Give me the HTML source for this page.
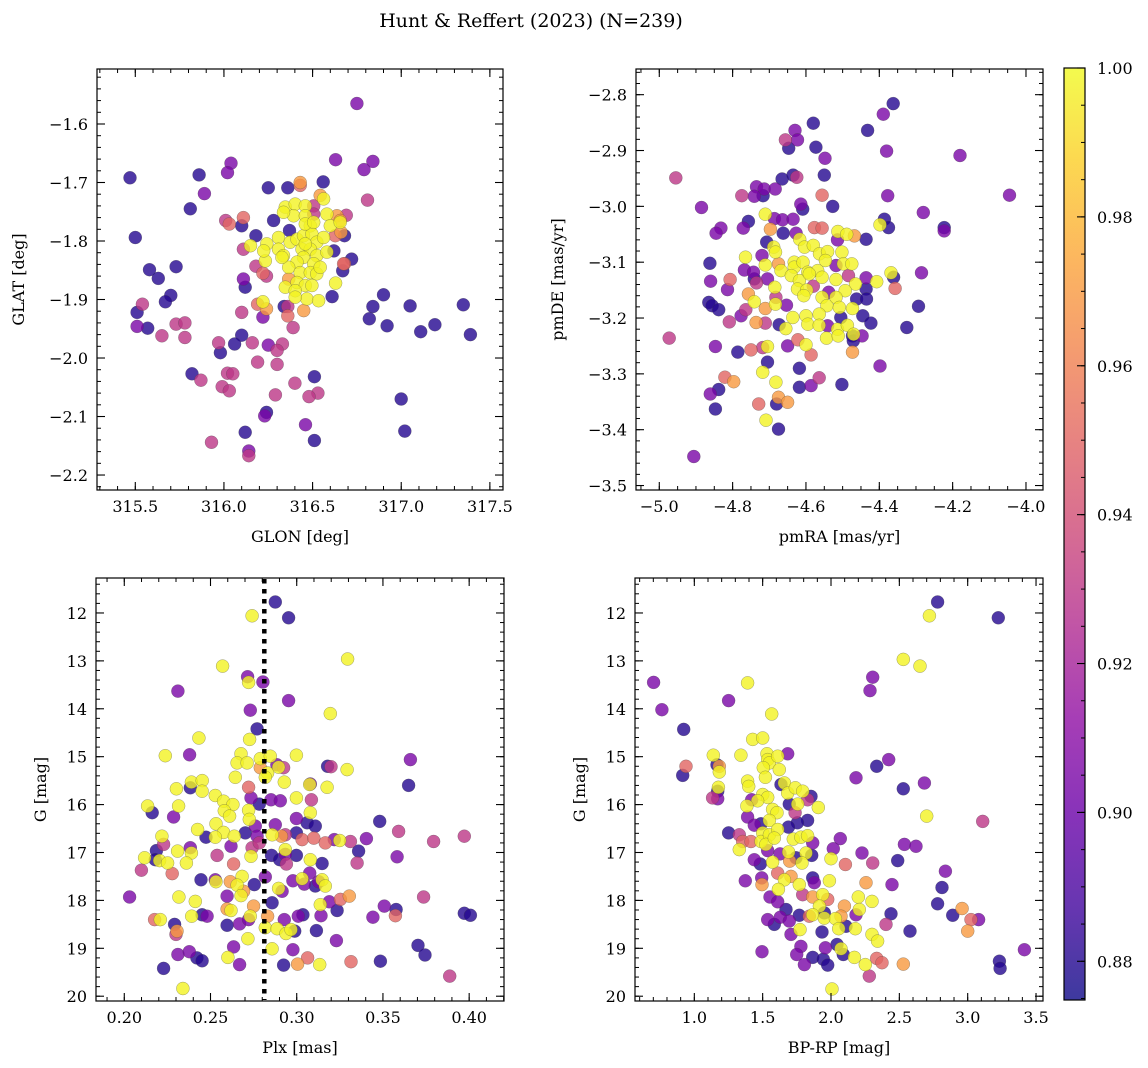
<!DOCTYPE html>
<html><head><meta charset="utf-8">
<style>
html,body{margin:0;padding:0;background:#fff;}
svg{display:block;font-family:"DejaVu Serif","Liberation Serif",serif;}
</style></head>
<body>
<svg id="fig" width="1148" height="1068" viewBox="0 0 1148 1068" xmlns="http://www.w3.org/2000/svg">
<text x="531" y="27" text-anchor="middle" font-size="19">Hunt &amp; Reffert (2023) (N=239)</text>
</svg>
<script>
// ---------- data (value units) ----------
const p1Points = [
[316.75,-1.565,.905],[315.47,-1.692,.88],[315.86,-1.687,.88],[316.04,-1.667,.905],[316.02,-1.683,.905],[315.89,-1.719,.905],[315.81,-1.745,.88],[315.50,-1.794,.88],[316.63,-1.661,.905],[316.84,-1.664,.905],[316.79,-1.678,.905],[316.81,-1.730,.93],[316.25,-1.709,.88],[316.36,-1.709,.88],[316.56,-1.699,.88],[316.43,-1.700,.97],[316.01,-1.765,.93],[316.03,-1.771,.95],[316.11,-1.760,.95],[316.10,-1.774,.88],[316.18,-1.791,.88],[316.28,-1.765,.88],[316.37,-1.782,.88],[316.69,-1.756,.93],[316.66,-1.785,.97],[316.68,-1.791,.88],[316.11,-1.814,.93],[316.15,-1.808,.998],[316.62,-1.817,.88],[316.72,-1.831,.88],[316.68,-1.839,.95],[316.67,-1.851,.88],[315.58,-1.849,.88],[315.73,-1.844,.88],[315.63,-1.864,.88],[315.70,-1.893,.88],[315.67,-1.904,.88],[315.54,-1.908,.93],[315.51,-1.922,.88],[315.51,-1.946,.905],[315.57,-1.949,.88],[315.65,-1.962,.93],[315.73,-1.942,.93],[315.78,-1.940,.93],[315.78,-1.965,.93],[316.18,-1.843,.93],[316.22,-1.855,.95],[316.24,-1.860,.93],[316.11,-1.865,.905],[316.12,-1.879,.88],[316.19,-1.908,.95],[316.22,-1.904,.998],[316.24,-1.916,.97],[316.10,-1.922,.93],[316.22,-1.930,.905],[316.34,-1.912,.88],[316.36,-1.912,.93],[316.36,-1.928,.95],[316.39,-1.948,.93],[316.45,-1.919,.97],[316.61,-1.895,.88],[316.63,-1.872,.998],[316.90,-1.892,.88],[316.84,-1.912,.88],[316.82,-1.933,.88],[316.92,-1.945,.88],[317.05,-1.911,.88],[317.11,-1.955,.88],[317.19,-1.943,.88],[317.35,-1.909,.88],[317.39,-1.960,.88],[316.10,-1.961,.88],[316.06,-1.976,.88],[315.97,-1.974,.93],[315.98,-1.991,.88],[316.16,-1.974,.93],[316.25,-1.978,.905],[316.33,-1.976,.93],[316.30,-1.987,.93],[316.19,-2.007,.93],[316.30,-2.011,.93],[315.82,-2.027,.88],[315.87,-2.038,.93],[316.02,-2.026,.93],[316.05,-2.027,.93],[315.99,-2.049,.93],[316.03,-2.056,.93],[316.40,-2.043,.93],[316.51,-2.032,.88],[316.53,-2.060,.93],[316.48,-2.066,.93],[316.29,-2.063,.93],[317.00,-2.070,.88],[316.24,-2.093,.88],[316.23,-2.099,.905],[316.46,-2.114,.905],[316.51,-2.141,.88],[317.02,-2.125,.88],[316.12,-2.127,.88],[315.93,-2.144,.93],[316.14,-2.159,.905],[316.14,-2.167,.93],
[316.346,-1.742,.998],[316.402,-1.737,.998],[316.459,-1.740,.998],[316.393,-1.757,.998],[316.459,-1.757,.998],[316.487,-1.774,.998],[316.581,-1.754,.998],[316.600,-1.774,.998],[316.656,-1.768,.998],[316.336,-1.751,.998],[316.562,-1.728,.998],[316.308,-1.794,.998],[316.242,-1.805,.998],[316.308,-1.814,.998],[316.374,-1.802,.998],[316.412,-1.797,.998],[316.449,-1.791,.998],[316.496,-1.788,.998],[316.524,-1.802,.998],[316.440,-1.814,.998],[316.487,-1.814,.998],[316.524,-1.825,.998],[316.581,-1.819,.998],[316.449,-1.828,.998],[316.506,-1.839,.998],[316.412,-1.836,.998],[316.365,-1.845,.998],[316.336,-1.825,.998],[316.233,-1.834,.998],[316.430,-1.854,.998],[316.487,-1.854,.998],[316.524,-1.856,.998],[316.543,-1.845,.998],[316.412,-1.871,.998],[316.459,-1.876,.998],[316.496,-1.876,.998],[316.346,-1.879,.998],[316.402,-1.885,.998],[316.468,-1.899,.998],[316.534,-1.902,.998],[316.402,-1.896,.998],[316.224,-1.817,.998],[316.459,-1.771,.998],[316.506,-1.768,.998],[316.327,-1.828,.998],[316.459,-1.805,.998],[316.562,-1.794,.998],
[316.543,-1.722,.97],[316.637,-1.757,.97],[316.365,-1.865,.97],[316.656,-1.765,.97],[316.430,-1.705,.95],[316.675,-1.839,.95],[316.628,-1.791,.95],[316.506,-1.740,.93],[316.506,-1.754,.93]
];
const p2Points = [
[-4.362,-2.816,.88],[-4.389,-2.835,.905],[-4.580,-2.851,.88],[-4.432,-2.864,.88],[-4.630,-2.864,.905],[-4.656,-2.881,.93],[-4.623,-2.881,.905],[-4.647,-2.896,.88],[-4.573,-2.894,.88],[-4.548,-2.914,.905],[-4.380,-2.901,.905],[-4.180,-2.909,.905],[-4.955,-2.949,.93],[-4.550,-2.944,.88],[-4.665,-2.951,.88],[-4.635,-2.944,.88],[-4.625,-2.948,.93],[-4.735,-2.965,.905],[-4.714,-2.969,.905],[-4.684,-2.969,.905],[-4.717,-2.981,.88],[-4.741,-2.982,.905],[-4.775,-2.981,.93],[-4.556,-2.980,.95],[-4.377,-2.981,.905],[-4.045,-2.980,.905],[-4.885,-3.002,.905],[-4.527,-3.000,.88],[-4.614,-2.996,.905],[-4.609,-3.005,.88],[-4.280,-3.011,.905],[-4.711,-3.014,.998],[-4.686,-3.022,.905],[-4.664,-3.024,.905],[-4.635,-3.023,.905],[-4.757,-3.027,.88],[-4.771,-3.039,.905],[-4.832,-3.039,.905],[-4.845,-3.048,.905],[-4.386,-3.023,.88],[-4.375,-3.038,.88],[-4.398,-3.033,.998],[-4.223,-3.038,.88],[-4.223,-3.044,.905],[-4.697,-3.041,.97],[-4.662,-3.048,.88],[-4.627,-3.048,.905],[-4.577,-3.038,.95],[-4.556,-3.039,.95],[-4.513,-3.045,.998],[-4.489,-3.050,.998],[-4.468,-3.053,.97],[-4.514,-3.060,.905],[-4.436,-3.059,.88],[-4.707,-3.064,.88],[-4.617,-3.059,.998],[-4.604,-3.073,.998],[-4.580,-3.070,.998],[-4.688,-3.073,.998],[-4.683,-3.082,.998],[-4.563,-3.085,.998],[-4.541,-3.081,.998],[-4.502,-3.082,.998],[-4.862,-3.102,.88],[-4.765,-3.091,.998],[-4.720,-3.088,.905],[-4.711,-3.105,.998],[-4.675,-3.103,.97],[-4.668,-3.115,.998],[-4.768,-3.114,.905],[-4.743,-3.118,.905],[-4.632,-3.100,.998],[-4.632,-3.109,.998],[-4.608,-3.100,.998],[-4.640,-3.124,.998],[-4.595,-3.118,.998],[-4.568,-3.115,.998],[-4.547,-3.097,.998],[-4.518,-3.106,.905],[-4.498,-3.103,.998],[-4.475,-3.103,.998],[-4.484,-3.124,.93],[-4.368,-3.119,.998],[-4.361,-3.127,.88],[-4.285,-3.119,.905],[-4.860,-3.134,.905],[-4.807,-3.131,.95],[-4.741,-3.130,.88],[-4.735,-3.137,.93],[-4.705,-3.130,.905],[-4.618,-3.133,.998],[-4.591,-3.121,.998],[-4.556,-3.127,.998],[-4.518,-3.131,.998],[-4.465,-3.139,.998],[-4.436,-3.128,.905],[-4.407,-3.135,.998],[-4.814,-3.149,.905],[-4.757,-3.157,.97],[-4.685,-3.145,.998],[-4.623,-3.148,.998],[-4.598,-3.150,.998],[-4.580,-3.143,.93],[-4.538,-3.154,.905],[-4.493,-3.151,.998],[-4.436,-3.148,.88],[-4.357,-3.147,.95],[-4.865,-3.172,.88],[-4.856,-3.178,.88],[-4.838,-3.185,.88],[-4.741,-3.171,.998],[-4.711,-3.183,.97],[-4.683,-3.175,.998],[-4.682,-3.163,.93],[-4.653,-3.177,.905],[-4.606,-3.160,.998],[-4.556,-3.163,.998],[-4.543,-3.178,.998],[-4.518,-3.163,.998],[-4.509,-3.181,.998],[-4.473,-3.183,.998],[-4.462,-3.166,.88],[-4.435,-3.166,.88],[-4.293,-3.179,.88],[-4.777,-3.196,.905],[-4.764,-3.185,.93],[-4.809,-3.207,.93],[-4.736,-3.208,.97],[-4.711,-3.209,.93],[-4.673,-3.212,.88],[-4.655,-3.219,.998],[-4.636,-3.199,.998],[-4.600,-3.196,.998],[-4.595,-3.211,.998],[-4.564,-3.193,.998],[-4.564,-3.213,.998],[-4.541,-3.214,.905],[-4.505,-3.199,.88],[-4.514,-3.220,.998],[-4.487,-3.213,.998],[-4.445,-3.196,.88],[-4.423,-3.209,.88],[-4.325,-3.217,.88],[-4.973,-3.236,.93],[-4.847,-3.251,.905],[-4.786,-3.261,.88],[-4.750,-3.257,.95],[-4.718,-3.253,.93],[-4.705,-3.251,.998],[-4.650,-3.250,.905],[-4.622,-3.239,.95],[-4.600,-3.248,.998],[-4.586,-3.266,.95],[-4.544,-3.236,.998],[-4.512,-3.232,.998],[-4.473,-3.232,.88],[-4.471,-3.241,.88],[-4.470,-3.229,.998],[-4.447,-3.232,.905],[-4.473,-3.261,.97],[-4.705,-3.279,.88],[-4.718,-3.297,.998],[-4.618,-3.290,.88],[-4.398,-3.286,.905],[-4.821,-3.306,.95],[-4.797,-3.314,.97],[-4.682,-3.315,.998],[-4.564,-3.307,.93],[-4.618,-3.324,.88],[-4.586,-3.321,.905],[-4.502,-3.319,.88],[-4.861,-3.336,.905],[-4.838,-3.328,.88],[-4.847,-3.363,.88],[-4.675,-3.342,.97],[-4.650,-3.351,.97],[-4.680,-3.354,.88],[-4.729,-3.354,.95],[-4.709,-3.383,.998],[-4.675,-3.399,.88],[-4.906,-3.448,.905]
];
const p3Points = [
[0.2876,11.77,.88],[0.2953,12.10,.88],[0.2741,12.06,.998],[0.3295,12.96,.998],[0.2570,13.11,.998],[0.2715,13.33,.905],[0.2721,13.45,.998],[0.2804,13.44,.905],[0.2311,13.63,.905],[0.2953,13.83,.905],[0.2731,14.03,.905],[0.3195,14.10,.998],[0.2770,14.42,.88],[0.2727,14.64,.998],[0.2433,14.61,.998],[0.2238,14.98,.998],[0.2379,14.96,.905],[0.2677,14.94,.998],[0.2654,15.13,.998],[0.2712,15.13,.998],[0.2789,15.04,.998],[0.2847,14.99,.998],[0.2998,14.97,.998],[0.2789,15.23,.97],[0.2831,15.34,.998],[0.2895,15.22,.998],[0.2924,15.23,.93],[0.2885,15.17,.905],[0.3179,15.20,.88],[0.3199,15.21,.93],[0.3292,15.27,.998],[0.3659,15.06,.905],[0.2644,15.43,.998],[0.2818,15.43,.998],[0.2928,15.53,.998],[0.3079,15.57,.905],[0.3075,15.58,.998],[0.3176,15.64,.998],[0.3649,15.60,.88],[0.2302,15.67,.998],[0.2383,15.65,.88],[0.2389,15.53,.998],[0.2452,15.50,.998],[0.2451,15.72,.998],[0.2721,15.64,.95],[0.2528,15.81,.998],[0.2576,15.93,.998],[0.2630,16.00,.998],[0.2580,16.13,.998],[0.2611,16.24,.998],[0.2735,15.86,.905],[0.2783,15.99,.88],[0.2851,15.90,.905],[0.2905,15.92,.905],[0.2998,15.86,.998],[0.3085,15.90,.93],[0.2135,16.03,.998],[0.2162,16.17,.88],[0.2315,16.03,.998],[0.2286,16.26,.905],[0.2721,16.12,.998],[0.2725,16.31,.998],[0.3079,16.17,.998],[0.2998,16.29,.905],[0.3060,16.38,.88],[0.3108,16.45,.88],[0.2876,16.42,.905],[0.2760,16.45,.905],[0.3481,16.35,.88],[0.3591,16.56,.93],[0.3972,16.66,.93],[0.3794,16.77,.93],[0.2425,16.52,.998],[0.2532,16.40,.998],[0.2576,16.58,.998],[0.2528,16.68,.998],[0.2474,16.68,.88],[0.2638,16.66,.998],[0.2702,16.59,.88],[0.2770,16.66,.905],[0.2858,16.63,.998],[0.2911,16.66,.97],[0.2934,16.63,.93],[0.2998,16.59,.88],[0.3031,16.73,.95],[0.3099,16.70,.95],[0.3166,16.80,.95],[0.3218,16.73,.905],[0.3249,16.75,.998],[0.3311,16.77,.93],[0.3404,16.71,.905],[0.3359,16.97,.88],[0.3582,17.09,.905],[0.3350,17.22,.93],[0.2218,16.66,.998],[0.2228,16.83,.93],[0.2186,16.96,.88],[0.2180,17.15,.88],[0.2118,17.11,.998],[0.2205,17.17,.998],[0.2251,17.22,.998],[0.2309,16.97,.998],[0.2383,16.90,.905],[0.2389,17.01,.998],[0.2360,17.22,.998],[0.2099,17.37,.93],[0.2278,17.44,.95],[0.2538,17.06,.93],[0.2619,16.87,.905],[0.2741,16.90,.93],[0.2783,16.80,.93],[0.2735,17.08,.998],[0.2854,17.06,.88],[0.2934,17.04,.905],[0.2934,16.94,.998],[0.2901,17.15,.88],[0.2940,17.24,.93],[0.2998,17.06,.88],[0.3079,17.15,.998],[0.3147,17.23,.88],[0.2634,17.24,.95],[0.2445,17.57,.88],[0.2528,17.57,.905],[0.2532,17.61,.998],[0.2683,17.50,.998],[0.2615,17.61,.97],[0.2654,17.68,.998],[0.2692,17.81,.97],[0.2677,17.90,.998],[0.2754,17.67,.88],[0.2818,17.51,.905],[0.2895,17.75,.998],[0.2915,17.81,.905],[0.2978,17.59,.905],[0.3031,17.55,.998],[0.3075,17.43,.905],[0.3044,17.66,.905],[0.3108,17.70,.88],[0.3147,17.57,.998],[0.3166,17.70,.998],[0.3127,17.61,.905],[0.2317,17.93,.998],[0.2412,18.02,.998],[0.2596,17.91,.905],[0.2857,18.05,.88],[0.2750,18.12,.97],[0.3137,18.09,.998],[0.3189,18.03,.905],[0.3253,17.98,.95],[0.3305,17.91,.97],[0.3234,18.21,.88],[0.3508,18.12,.905],[0.3576,18.19,.88],[0.3572,18.32,.95],[0.3442,18.35,.905],[0.3736,17.93,.93],[0.3972,18.27,.88],[0.4007,18.31,.88],[0.2176,18.40,.95],[0.2209,18.40,.998],[0.2391,18.33,.998],[0.2451,18.30,.88],[0.2480,18.33,.905],[0.2292,18.50,.88],[0.2306,18.64,.97],[0.2300,18.71,.93],[0.2596,18.18,.97],[0.2619,18.21,.998],[0.2596,18.52,.88],[0.2669,18.49,.905],[0.2721,18.40,.905],[0.2731,18.33,.998],[0.2831,18.33,.97],[0.2818,18.57,.998],[0.2886,18.59,.998],[0.2928,18.40,.905],[0.2938,18.69,.998],[0.2967,18.61,.998],[0.2988,18.64,.88],[0.3009,18.33,.905],[0.3036,18.30,.88],[0.3114,18.63,.88],[0.3141,18.32,.905],[0.2717,18.80,.998],[0.2634,18.97,.905],[0.2857,19.01,.998],[0.2978,19.03,.905],[0.3230,18.84,.905],[0.3703,18.94,.88],[0.3744,19.14,.88],[0.2311,19.13,.905],[0.2377,19.07,.905],[0.2421,19.20,.88],[0.2451,19.26,.88],[0.2601,19.19,.998],[0.2669,19.34,.905],[0.2924,19.35,.88],[0.3005,19.33,.97],[0.3063,19.20,.95],[0.3133,19.34,.998],[0.3315,19.28,.95],[0.3485,19.27,.88],[0.2228,19.42,.88],[0.2340,19.84,.998],[0.3887,19.58,.93],[0.2031,17.93,.905]
];
const p4Points = [
[2.780,11.77,.88],[2.720,12.06,.998],[3.224,12.10,.88],[2.529,12.97,.998],[2.651,13.11,.998],[2.305,13.34,.905],[2.285,13.62,.905],[0.702,13.45,.905],[1.390,13.46,.998],[0.763,14.02,.905],[1.251,13.83,.905],[0.922,14.43,.88],[1.566,14.11,.998],[1.427,14.64,.998],[1.500,14.61,.998],[1.139,14.97,.998],[1.341,14.97,.998],[1.683,14.94,.905],[1.532,14.94,.998],[1.537,15.06,.998],[1.549,15.13,.998],[1.610,14.99,.998],[1.505,15.23,.998],[1.520,15.43,.998],[1.622,15.27,.998],[0.939,15.20,.95],[0.915,15.39,.88],[1.166,15.17,.88],[1.183,15.20,.97],[1.183,15.32,.998],[2.183,15.44,.905],[2.334,15.20,.88],[2.422,15.06,.905],[2.683,15.55,.905],[2.529,15.67,.88],[2.700,16.24,.998],[3.110,16.35,.93],[1.176,15.64,.998],[1.171,15.72,.88],[1.134,15.86,.93],[1.171,15.88,.905],[1.390,15.51,.998],[1.398,15.62,.998],[1.634,15.58,.88],[1.659,15.55,.998],[1.683,15.76,.998],[1.739,15.65,.998],[1.793,15.72,.998],[1.854,15.83,.88],[1.829,15.90,.93],[1.500,15.79,.998],[1.537,15.85,.998],[1.420,15.90,.905],[1.463,15.92,.998],[1.385,16.03,.998],[1.695,15.99,.88],[1.756,15.99,.998],[1.907,16.06,.998],[1.573,16.10,.998],[1.605,16.17,.998],[1.390,16.26,.905],[1.549,16.33,.998],[1.737,16.17,.93],[1.829,16.33,.88],[1.754,16.38,.88],[1.688,16.47,.88],[1.439,16.43,.905],[1.488,16.40,.88],[1.251,16.59,.88],[1.329,16.63,.93],[1.354,16.77,.95],[1.415,16.77,.95],[1.500,16.59,.998],[1.488,16.77,.998],[1.549,16.63,.998],[1.610,16.52,.998],[1.524,16.83,.998],[1.585,16.70,.998],[1.724,16.72,.998],[1.780,16.68,.998],[1.829,16.65,.998],[1.866,16.80,.905],[2.068,16.71,.905],[2.017,16.92,.905],[1.329,16.94,.998],[1.439,17.15,.905],[1.483,17.24,.88],[1.537,16.96,.905],[1.573,17.20,.998],[1.627,17.03,.905],[1.690,16.99,.998],[1.698,17.18,.97],[1.744,17.11,.88],[1.817,17.01,.998],[1.788,17.22,.998],[1.859,17.06,.88],[2.000,17.13,.998],[2.105,17.25,.95],[2.227,17.01,.905],[2.305,17.22,.93],[2.488,17.17,.88],[2.537,16.83,.905],[2.622,16.87,.905],[1.610,17.43,.95],[1.659,17.57,.998],[1.707,17.50,.97],[1.495,17.67,.97],[1.373,17.59,.905],[1.493,17.53,.905],[1.615,17.77,.998],[1.768,17.67,.998],[1.866,17.53,.88],[1.878,17.63,.905],[1.988,17.59,.998],[2.256,17.63,.97],[2.446,17.67,.905],[2.837,17.39,.905],[2.812,17.73,.88],[1.554,17.93,.905],[1.610,18.03,.905],[1.793,17.88,.93],[1.866,17.93,.97],[1.939,17.88,.998],[1.976,17.98,.95],[1.915,18.12,.998],[2.200,17.93,.998],[2.300,18.02,.998],[2.098,18.12,.97],[2.207,18.19,.998],[2.780,18.07,.88],[2.959,18.17,.97],[2.890,18.31,.88],[1.671,18.19,.88],[1.768,18.31,.88],[1.841,18.33,.95],[1.866,18.30,.998],[1.951,18.37,.998],[1.951,18.26,.88],[2.032,18.38,.998],[2.073,18.33,.97],[2.183,18.30,.905],[2.439,18.28,.88],[3.024,18.40,.95],[3.080,18.40,.905],[1.537,18.40,.905],[1.585,18.50,.88],[1.629,18.35,.905],[1.695,18.43,.905],[1.773,18.61,.998],[1.707,18.71,.905],[1.934,18.66,.88],[2.056,18.59,.998],[2.110,18.54,.88],[2.178,18.59,.998],[2.402,18.50,.93],[2.578,18.64,.88],[3.000,18.64,.97],[2.300,18.71,.998],[2.341,18.85,.998],[1.495,19.07,.905],[1.780,18.96,.905],[1.749,19.13,.905],[1.866,19.19,.88],[1.959,18.99,.905],[1.944,19.23,.88],[1.976,19.35,.88],[1.805,19.34,.905],[2.044,18.92,.88],[2.073,19.01,.998],[2.090,19.13,.88],[2.171,19.19,.998],[2.251,19.34,.998],[2.334,19.21,.95],[2.373,19.30,.95],[2.280,19.58,.93],[2.529,19.33,.97],[2.007,19.85,.998],[3.232,19.27,.88],[3.237,19.42,.88],[3.415,19.03,.905]
];
const plxRef = 0.2812;
const p1XTicks = [315.5,316.0,316.5,317.0,317.5];
const p1YTicks = [-1.6,-1.7,-1.8,-1.9,-2.0,-2.1,-2.2];
const p2XTicks = [-5.0,-4.8,-4.6,-4.4,-4.2,-4.0];
const p2YTicks = [-2.8,-2.9,-3.0,-3.1,-3.2,-3.3,-3.4,-3.5];
const p3XTicks = [0.20,0.25,0.30,0.35,0.40];
const gTicks = [12,13,14,15,16,17,18,19,20];
const p4XTicks = [1.0,1.5,2.0,2.5,3.0,3.5];
const cbTicks = [0.88,0.90,0.92,0.94,0.96,0.98,1.00];
const cMin = 0.8748, cMax = 1.0;

// ---------- helpers ----------
const NS = "http://www.w3.org/2000/svg";
const svg = document.getElementById('fig');
function mk(tag, attrs, parent){const e=document.createElementNS(NS,tag);for(const k in attrs)e.setAttribute(k,attrs[k]);(parent||svg).appendChild(e);return e;}
const plasma=[[13,8,135],[65,4,157],[106,0,168],[143,13,164],[177,42,144],[204,71,120],[225,100,98],[242,132,75],[252,166,54],[252,206,37],[240,249,33]];
function cmap(t){t=Math.max(0,Math.min(1,t));const f=t*10,i=Math.min(9,Math.floor(f)),r=f-i;const a=plasma[i],b=plasma[i+1];return `rgb(${Math.round(a[0]+(b[0]-a[0])*r)},${Math.round(a[1]+(b[1]-a[1])*r)},${Math.round(a[2]+(b[2]-a[2])*r)})`;}
function lin(d0,d1,r0,r1){return v=>r0+(v-d0)/(d1-d0)*(r1-r0);}
function fmt(v,dec){const s=Math.abs(v).toFixed(dec);return (v<0?'\u2212':'')+s;}

function panel(opt){
  const g=mk('g',{});
  
  
  const {L,R,T,B}=opt;
  const sx=lin(opt.xd[0],opt.xd[1],L,R), sy=lin(opt.yd[0],opt.yd[1],T,B);
  // points
  const pg=mk('g',{},g);
  
  
  const pts=opt.pts.slice().sort((a,b)=>a[2]-b[2]);
  pts.forEach(p=>{
    const c=mk('circle',{cx:sx(p[0]).toFixed(1),cy:sy(p[1]).toFixed(1),r:6.5,fill:cmap((p[2]-cMin)/(cMax-cMin)),'fill-opacity':0.8,stroke:'#444','stroke-opacity':0.5,'stroke-width':0.5},pg);
    
    
  });
  if(opt.extra) opt.extra(g,sx,sy);
  // frame
  const fr=mk('rect',{x:L,y:T,width:R-L,height:B-T,fill:'none',stroke:'#000','stroke-width':1.2},g);
  
  
  // ticks
  const xmin=Math.min(...opt.xd),xmax=Math.max(...opt.xd),ymin=Math.min(...opt.yd),ymax=Math.max(...opt.yd);
  for(let v=Math.ceil(xmin/opt.xm-1e-6)*opt.xm; v<=xmax+1e-9; v+=opt.xm){
    const x=sx(v); if(x<L-0.5||x>R+0.5)continue;
    mk('line',{x1:x,x2:x,y1:B,y2:B-4,stroke:'#000','stroke-width':1},g);
    mk('line',{x1:x,x2:x,y1:T,y2:T+4,stroke:'#000','stroke-width':1},g);
  }
  for(let v=Math.ceil(ymin/opt.ym-1e-6)*opt.ym; v<=ymax+1e-9; v+=opt.ym){
    const y=sy(v); if(y<T-0.5||y>B+0.5)continue;
    mk('line',{x1:L,x2:L+4,y1:y,y2:y,stroke:'#000','stroke-width':1},g);
    mk('line',{x1:R,x2:R-4,y1:y,y2:y,stroke:'#000','stroke-width':1},g);
  }
  opt.xt.forEach(v=>{const x=sx(v);
    mk('line',{x1:x,x2:x,y1:B,y2:B-8,stroke:'#000','stroke-width':1.1},g);
    mk('line',{x1:x,x2:x,y1:T,y2:T+8,stroke:'#000','stroke-width':1.1},g);
    const t=mk('text',{x:x,y:B+22,'text-anchor':'middle','font-size':16},g);t.textContent=fmt(v,opt.xdec);
    
    
  });
  opt.yt.forEach(v=>{const y=sy(v);
    mk('line',{x1:L,x2:L+8,y1:y,y2:y,stroke:'#000','stroke-width':1.1},g);
    mk('line',{x1:R,x2:R-8,y1:y,y2:y,stroke:'#000','stroke-width':1.1},g);
    const t=mk('text',{x:L-9,y:y+6,'text-anchor':'end','font-size':16},g);t.textContent=fmt(v,opt.ydec);
    
    
  });
  const xl=mk('text',{x:(L+R)/2,y:B+52,'text-anchor':'middle','font-size':16},g);xl.textContent=opt.xlab;
  
  
  const yl=mk('text',{x:opt.ylx,y:(T+B)/2,'text-anchor':'middle','font-size':16,transform:`rotate(-90 ${opt.ylx} ${(T+B)/2})`},g);yl.textContent=opt.ylab;
  
  
}

panel({name:'glon-glat-panel',L:97,R:503,T:69,B:490,xd:[315.284,317.574],yd:[-1.506,-2.2256],pts:p1Points,xt:p1XTicks,yt:p1YTicks,xm:0.1,ym:0.02,xdec:1,ydec:1,xlab:'GLON [deg]',ylab:'GLAT [deg]',ylx:24});
panel({name:'pm-panel',L:636,R:1043,T:69,B:490,xd:[-5.0635,-3.9536],yd:[-2.754,-3.508],pts:p2Points,xt:p2XTicks,yt:p2YTicks,xm:0.05,ym:0.02,xdec:1,ydec:1,xlab:'pmRA [mas/yr]',ylab:'pmDE [mas/yr]',ylx:563});
panel({name:'plx-g-panel',L:96,R:504,T:578,B:1001,xd:[0.1836,0.4202],yd:[11.27,20.10],pts:p3Points,xt:p3XTicks,yt:gTicks,xm:0.01,ym:0.2,xdec:2,ydec:0,xlab:'Plx [mas]',ylab:'G [mag]',ylx:46,
  extra:(g,sx,sy)=>{const l=mk('line',{x1:sx(plxRef),x2:sx(plxRef),y1:579,y2:1000,stroke:'#000','stroke-width':4.5,'stroke-dasharray':'4.5 5.5'},g);
    
    }});
panel({name:'cmd-panel',L:635,R:1043,T:578,B:1001,xd:[0.566,3.551],yd:[11.27,20.10],pts:p4Points,xt:p4XTicks,yt:gTicks,xm:0.1,ym:0.2,xdec:1,ydec:0,xlab:'BP-RP [mag]',ylab:'G [mag]',ylx:585});

// colorbar
(function(){
  const L=1064,R=1085,T=68,B=1000;
  const g=mk('g',{});
  
  
  const defs=mk('defs',{},g);
  const lg=mk('linearGradient',{id:'cbg',x1:0,y1:1,x2:0,y2:0},defs);
  for(let i=0;i<=20;i++){mk('stop',{offset:i/20,'stop-color':cmap(i/20),'stop-opacity':0.8},lg);}
  mk('rect',{x:L,y:T,width:R-L,height:B-T,fill:'url(#cbg)',stroke:'#000','stroke-width':1.2},g);
  const sy=lin(cMin,cMax,B,T);
  for(let v=0.875; v<=1.0001; v+=0.005){const y=sy(v);mk('line',{x1:R,x2:R-4,y1:y,y2:y,stroke:'#000','stroke-width':1},g);}
  cbTicks.forEach(v=>{const y=sy(v);mk('line',{x1:R,x2:R-8,y1:y,y2:y,stroke:'#000','stroke-width':1.1},g);
    const t=mk('text',{x:R+12,y:y+6,'font-size':16},g);t.textContent=v.toFixed(2);
    
    });
})();
</script>
</body></html>
